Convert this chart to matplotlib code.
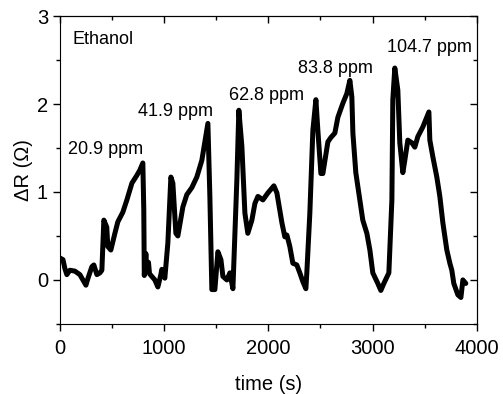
import matplotlib
matplotlib.use("Agg")
import matplotlib.pyplot as plt
from matplotlib.ticker import MultipleLocator

plt.rcParams['font.family'] = ['Liberation Sans', 'DejaVu Sans']

# time (s) and resistance change (Ohm)
timeData = [0, 30, 48, 67, 96, 144, 192, 250, 270, 307, 326, 355, 384, 403,
            422, 450, 460, 489, 528, 556, 604, 643, 691, 739, 768, 796,
            805, 810, 825, 835, 850, 860, 911, 940, 969, 978, 1007, 1036,
            1065, 1084, 1113, 1132, 1180, 1218, 1266, 1314, 1362, 1420,
            1439, 1458, 1487, 1516, 1545, 1564, 1602, 1631, 1660, 1698,
            1717, 1746, 1775, 1803, 1842, 1871, 1900, 1948, 1996, 2053,
            2082, 2130, 2158, 2178, 2206, 2235, 2273, 2302, 2331, 2360,
            2369, 2398, 2427, 2456, 2475, 2504, 2523, 2571, 2600, 2638,
            2667, 2715, 2753, 2782, 2801, 2811, 2839, 2878, 2906, 2945,
            2974, 3002, 3050, 3079, 3108, 3156, 3185, 3194, 3213, 3242,
            3261, 3290, 3309, 3338, 3376, 3405, 3434, 3482, 3540, 3549,
            3578, 3616, 3645, 3674, 3712, 3741, 3760, 3779, 3818, 3847,
            3866, 3894]
deltaR = [0.25, 0.23, 0.13, 0.06, 0.11, 0.10, 0.06, -0.06, 0.02, 0.15, 0.17, 0.06, 0.08, 0.11,
          0.68, 0.60, 0.38, 0.34, 0.53, 0.66, 0.77, 0.91, 1.10, 1.19, 1.25, 1.33,
          0.80, 0.05, 0.30, 0.10, 0.20, 0.07, 0.00, -0.08, 0.06, 0.12, 0.02, 0.42,
          1.17, 1.10, 0.53, 0.50, 0.83, 0.97, 1.05, 1.17, 1.36, 1.78,
          0.95, -0.11, -0.11, 0.32, 0.23, 0.04, 0.00, 0.08, -0.10, 1.14,
          1.93, 1.52, 0.76, 0.53, 0.68, 0.87, 0.95, 0.91, 0.99, 1.07,
          0.99, 0.65, 0.49, 0.51, 0.38, 0.19, 0.17, 0.08, -0.02, -0.10,
          0.08, 0.76, 1.70, 2.05, 1.70, 1.21, 1.21, 1.57, 1.62, 1.67,
          1.85, 2.01, 2.12, 2.27, 2.08, 1.67, 1.22, 0.91, 0.68, 0.53,
          0.34, 0.08, -0.04, -0.12, -0.04, 0.08, 0.91, 2.05, 2.41, 2.16,
          1.56, 1.22, 1.36, 1.59, 1.56, 1.51, 1.63, 1.74, 1.91, 1.59,
          1.40, 1.17, 0.95, 0.65, 0.34, 0.19, 0.11, -0.04, -0.17, -0.20,
          0.00, -0.04]

# concentration labels and where they sit (data coords)
ppmLabels = ["20.9 ppm", "41.9 ppm", "62.8 ppm", "83.8 ppm", "104.7 ppm"]
labelX = [77, 748, 1621, 2283, 3137]
labelY = [1.48, 1.91, 2.10, 2.41, 2.64]

fig = plt.figure(figsize=(5.03, 3.94), dpi=100)
ax = fig.add_axes([0.119, 0.178, 0.829, 0.781])

ax.plot(timeData, deltaR, color='black', linewidth=3.6,
        solid_joinstyle='round', solid_capstyle='round')

for lab, x, y in zip(ppmLabels, labelX, labelY):
    ax.text(x, y, lab, fontsize=13, ha='left', va='center')
ax.text(0.03, 0.925, "Ethanol", transform=ax.transAxes, fontsize=13,
        ha='left', va='center')

ax.set_xlim(0, 4000)
ax.set_ylim(-0.5, 3)
ax.xaxis.set_major_locator(MultipleLocator(1000))
ax.xaxis.set_minor_locator(MultipleLocator(500))
ax.yaxis.set_major_locator(MultipleLocator(1))
ax.yaxis.set_minor_locator(MultipleLocator(0.5))
ax.tick_params(which='both', direction='out', labelsize=14.5, width=1)
ax.tick_params(which='major', length=5)
ax.tick_params(which='minor', length=3)
ax.tick_params(axis='x', which='major', pad=6)

# mirrored ticks on top and right, pointing inward
axt = ax.secondary_xaxis('top')
axt.xaxis.set_major_locator(MultipleLocator(1000))
axt.xaxis.set_minor_locator(MultipleLocator(500))
axt.tick_params(which='both', direction='in', labeltop=False, width=1)
axt.tick_params(which='major', length=5)
axt.tick_params(which='minor', length=3)
axr = ax.secondary_yaxis('right')
axr.yaxis.set_major_locator(MultipleLocator(1))
axr.yaxis.set_minor_locator(MultipleLocator(0.5))
axr.tick_params(which='both', direction='in', labelright=False, width=1)
axr.tick_params(which='major', length=5)
axr.tick_params(which='minor', length=3)

ax.set_xlabel("time (s)", fontsize=14.5, labelpad=12)
ax.set_ylabel("ΔR (Ω)", fontsize=14.5, labelpad=3)

fig.savefig("out.png", dpi=100)
